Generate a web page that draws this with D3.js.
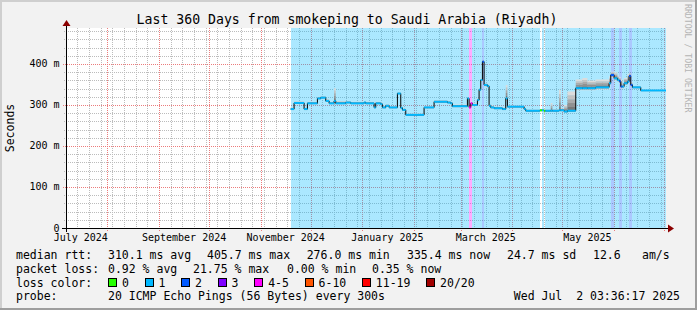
<!DOCTYPE html>
<html>
<head>
<meta charset="utf-8">
<script src="https://cdn.jsdelivr.net/npm/d3@7"></script>
<style>
  html, body { margin: 0; padding: 0; background: #f2f2f2; }
  svg { display: block; }
  text { font-family: "DejaVu Sans Mono", monospace; white-space: pre; }
</style>
</head>
<body>
<script>
// smokeping steps (start of each step), values in ms
const dates = ["2024-11-19","2024-11-21","2024-11-27","2024-11-29","2024-12-05","2024-12-07","2024-12-10","2024-12-12","2024-12-15","2024-12-16",
  "2024-12-22","2024-12-25","2025-01-02","2025-01-03","2025-01-08","2025-01-09","2025-01-12","2025-01-13","2025-01-15","2025-01-17",
  "2025-01-22","2025-01-24","2025-01-25","2025-01-27","2025-02-07","2025-02-13","2025-02-21","2025-02-23","2025-02-24","2025-03-05",
  "2025-03-06","2025-03-07","2025-03-08","2025-03-11","2025-03-12","2025-03-13","2025-03-14","2025-03-15","2025-03-17","2025-03-18",
  "2025-03-19","2025-03-21","2025-03-26","2025-03-28","2025-03-29","2025-04-08","2025-04-09","2025-04-17 12:00","2025-04-18 18:00","2025-04-19 22:00",
  "2025-04-20 18:00","2025-04-24","2025-04-25","2025-04-29","2025-04-30","2025-05-02","2025-05-04","2025-05-09","2025-05-13","2025-05-16",
  "2025-05-21","2025-05-29","2025-05-30","2025-06-01","2025-06-03","2025-06-04","2025-06-05","2025-06-06","2025-06-07","2025-06-09",
  "2025-06-10","2025-06-11","2025-06-12","2025-06-17"]
const median = [290,305,290,304,316,318,310,304,310,304,
  306,304,306,304,294,304,302,294,298,294,
  328,293,288,276,294,308,306,304,297,316,
  294,304,300,312,337,361,405.7,349,346,298,
  294,292,290,316,296,290,286,287,287,286,
  286,286,286,287,287,284,286,341,341,341,
  343,353,373,365,361,358,345,345,353,357,
  371,349,343,335.4]
const loss = [1,1,1,1,1,1,1,1,1,1,
  1,1,1,1,1,1,1,1,1,1,
  1,1,1,1,1,1,1,1,1,1,
  4,4,1,1,1,1,2,1,1,1,
  1,1,1,1,1,1,1,0,1,0,
  1,1,1,1,1,1,1,1,1,1,
  1,1,2,1,1,2,2,1,1,1,
  2,2,1,1]
const smokeHi = [294,309,294,308,320,322,314,308,341,310,
  310,308,310,308,298,308,306,298,302,297,
  331,296,291,279,297,312,310,308,301,320,
  298,308,304,316,341,365,410,353,350,302,
  298,296,294,349,299,293,289,290,290,289,
  289,305,290,337,292,300,333,362,366,360,
  362,370,381,380,372,368,362,350,366,375,
  378,356,346,337]
const smokeLo = [287,302,287,301,313,315,307,301,306,301,
  303,301,303,301,291,301,299,291,295,291,
  325,290,285,274,291,305,303,301,294,312,
  290,300,297,308,333,357,400,345,342,295,
  291,289,287,310,293,287,283,284,284,283,
  283,283,283,284,284,281,283,336,336,336,
  338,348,366,360,356,352,340,340,348,352,
  365,344,339,333]

const lossLabels = ["0","1","2","3","4-5","6-10","11-19","20/20"]
const lossColors = ["#26ff00","#00b8ff","#0059ff","#7e00ff","#ff00ff","#ff5500","#ff0000","#a10000"]
const yTicks = [0, 100, 200, 300, 400]
const labelMonths = ["2024-07-01","2024-09-01","2024-11-01","2025-01-01","2025-03-01","2025-05-01"]
const rttStats = ["310.1 ms avg","405.7 ms max","276.0 ms min","335.4 ms now","24.7 ms sd","12.6","am/s"]
const lossStats = ["0.92 % avg","21.75 % max","0.00 % min","0.35 % now"]

const width = 697, height = 310
const margin = ({ top: 28, left: 66, right: 31, bottom: 82 })
const endTime = new Date(Date.UTC(2025, 6, 2, 3, 36, 17))
const startTime = new Date(endTime - 360 * 864e5)

const parseDay = d3.utcParse("%Y-%m-%d"), parseHour = d3.utcParse("%Y-%m-%d %H:%M")
const parse = s => s.length > 10 ? parseHour(s) : parseDay(s)

const steps = dates.map((d, i) => ({ t: parse(d), v: median[i], loss: loss[i], hi: smokeHi[i], lo: smokeLo[i] }))
steps.push({ ...steps[steps.length - 1], t: endTime })

const x = d3.scaleUtc().domain([startTime, endTime]).range([margin.left, width - margin.right])
const y = d3.scaleLinear().domain([0, 487.8]).range([height - margin.bottom, margin.top])
const y0 = y(0), yTop = margin.top

const svg = d3.select('body').append('svg')
  .attr('width', width).attr('height', height)
  .attr('viewBox', [0, 0, width, height])

// frame
svg.append('rect').attr('width', width).attr('height', height).attr('fill', '#f2f2f2')
svg.append('path').attr('fill', '#cfcfcf').attr('d', `M0,0H${width}V2H2V${height}H0Z`)
svg.append('path').attr('fill', '#9e9e9e').attr('d', `M${width},${height}H0V${height - 2}H${width - 2}V0H${width}Z`)

// canvas
svg.append('rect').attr('x', x.range()[0]).attr('y', yTop)
  .attr('width', x.range()[1] - x.range()[0]).attr('height', y0 - yTop).attr('fill', '#fff')

// grid
const grid = svg.append('g').attr('shape-rendering', 'crispEdges').attr('stroke-width', 1)
const months = d3.utcMonth.range(startTime, endTime)
const weeks = d3.utcSunday.range(startTime, endTime).filter(w => w.getUTCDate() !== 1)
const minorY = d3.range(20, 488, 20).filter(v => v % 100 !== 0)
const majorY = d3.range(100, 488, 100)

grid.selectAll('.wk').data(weeks).join('line')
  .attr('x1', d => Math.round(x(d)) + 0.5).attr('x2', d => Math.round(x(d)) + 0.5)
  .attr('y1', yTop).attr('y2', y0 + 2)
  .attr('stroke', '#bcbcbc').attr('stroke-dasharray', '1,1')
grid.selectAll('.hy').data(minorY).join('line')
  .attr('x1', x.range()[0] - 2).attr('x2', x.range()[1])
  .attr('y1', d => Math.round(y(d)) + 0.5).attr('y2', d => Math.round(y(d)) + 0.5)
  .attr('stroke', '#bcbcbc').attr('stroke-dasharray', '1,1')
grid.selectAll('.mo').data(months).join('line')
  .attr('x1', d => Math.round(x(d)) + 0.5).attr('x2', d => Math.round(x(d)) + 0.5)
  .attr('y1', yTop).attr('y2', y0 + 3)
  .attr('stroke', '#ec7c7c').attr('stroke-dasharray', '1,1')
grid.selectAll('.my').data(majorY).join('line')
  .attr('x1', x.range()[0] - 3).attr('x2', x.range()[1])
  .attr('y1', d => Math.round(y(d)) + 0.5).attr('y2', d => Math.round(y(d)) + 0.5)
  .attr('stroke', '#ec7c7c').attr('stroke-dasharray', '1,1')

// loss background, consecutive equal classes merged
const runs = []
steps.slice(0, -1).forEach((s, i) => {
  const last = runs[runs.length - 1]
  if (last && last.loss === s.loss) last.t1 = steps[i + 1].t
  else runs.push({ loss: s.loss, t0: s.t, t1: steps[i + 1].t })
})
svg.append('g').attr('shape-rendering', 'crispEdges')
  .selectAll('rect').data(runs.filter(r => r.loss > 0)).join('rect')
  .attr('x', d => Math.round(x(d.t0))).attr('y', yTop)
  .attr('width', d => Math.round(x(d.t1)) - Math.round(x(d.t0)))
  .attr('height', y0 - yTop)
  .attr('fill', d => lossColors[d.loss]).attr('fill-opacity', 0.33)

// smoke, darker near the median
const levels = 5
const smoke = svg.append('g')
for (let k = levels - 1; k >= 0; k--) {
  const g = 120 + k * 25
  const grey = d3.rgb(g, g, g)
  const up = d3.area().curve(d3.curveStepAfter).x(d => x(d.t))
    .y0(d => y(d.v + (d.hi - d.v) * k / levels)).y1(d => y(d.v + (d.hi - d.v) * (k + 1) / levels))
  const down = d3.area().curve(d3.curveStepAfter).x(d => x(d.t))
    .y0(d => y(d.v - (d.v - d.lo) * k / levels)).y1(d => y(d.v - (d.v - d.lo) * (k + 1) / levels))
  smoke.append('path').attr('d', up(steps)).attr('fill', grey)
  smoke.append('path').attr('d', down(steps)).attr('fill', grey)
}

// median: thin black steps, loss coloured flats
svg.append('path')
  .attr('d', d3.line().curve(d3.curveStepAfter).x(d => x(d.t)).y(d => y(d.v))(steps))
  .attr('fill', 'none').attr('stroke', '#000').attr('stroke-width', 1)
svg.append('g').selectAll('line').data(steps.slice(0, -1)).join('line')
  .attr('x1', d => x(d.t)).attr('x2', (d, i) => x(steps[i + 1].t))
  .attr('y1', d => y(d.v)).attr('y2', d => y(d.v))
  .attr('stroke', d => lossColors[d.loss]).attr('stroke-width', 2)

// axes
const axis = svg.append('g').attr('shape-rendering', 'crispEdges')
axis.append('line').attr('x1', x.range()[0] - 4).attr('x2', x.range()[1] + 4)
  .attr('y1', y0 + 0.5).attr('y2', y0 + 0.5).attr('stroke', '#000')
axis.append('line').attr('x1', x.range()[0] + 0.5).attr('x2', x.range()[0] + 0.5)
  .attr('y1', y0 + 4).attr('y2', yTop - 3).attr('stroke', '#000')
svg.append('path').attr('fill', '#8b0000')
  .attr('d', `M${x.range()[1] + 2},${y0 - 3.5}L${x.range()[1] + 8},${y0 + 0.5}L${x.range()[1] + 2},${y0 + 4.5}Z`)
svg.append('path').attr('fill', '#8b0000')
  .attr('d', `M${x.range()[0] - 3.5},${yTop - 2}L${x.range()[0] + 0.5},${yTop - 8}L${x.range()[0] + 4.5},${yTop - 2}Z`)

svg.append('g').selectAll('text').data(yTicks).join('text')
  .attr('x', 59.5).attr('y', d => y(d) + 3.5)
  .attr('text-anchor', 'end').attr('font-size', 10).attr('fill', '#000')
  .text(d => d === 0 ? '0' : `${d} m`)

const fmt = d3.utcFormat('%B %Y')
svg.append('g').selectAll('text').data(labelMonths.map(parseDay)).join('text')
  .attr('x', d => x(d3.utcDay.offset(d, 15))).attr('y', 241)
  .attr('text-anchor', 'middle').attr('font-size', 10).attr('fill', '#000')
  .text(d => fmt(d))

svg.append('text').attr('transform', `translate(14,128) rotate(-90)`)
  .attr('text-anchor', 'middle').attr('font-size', 11.5).text('Seconds')

svg.append('text').attr('x', 347).attr('y', 23.5).attr('text-anchor', 'middle')
  .attr('font-size', 13.2).text('Last 360 Days from smokeping to Saudi Arabia (Riyadh)')

svg.append('text').attr('transform', 'translate(685,4) rotate(90)')
  .attr('font-size', 8.2).attr('fill', '#b4b4b4').text('RRDTOOL / TOBI OETIKER')

// legend
const leg = svg.append('g').attr('font-size', 11.5).attr('fill', '#000')
const rows = [258.5, 272.5, 286.5, 300]
leg.append('text').attr('x', 16).attr('y', rows[0]).text('median rtt:')
const rttX = [108, 207, 306.7, 407, 507, 593, 642]
rttStats.forEach((s, i) => leg.append('text').attr('x', rttX[i]).attr('y', rows[0]).text(s))
leg.append('text').attr('x', 16).attr('y', rows[1]).text('packet loss:')
const lossX = [108, 193, 287, 372]
lossStats.forEach((s, i) => leg.append('text').attr('x', lossX[i]).attr('y', rows[1]).text(s))
leg.append('text').attr('x', 16).attr('y', rows[2]).text('loss color:')
let lx = 108
lossLabels.forEach((l, i) => {
  leg.append('rect').attr('x', lx + 0.5).attr('y', 278.5).attr('width', 8).attr('height', 8)
    .attr('fill', lossColors[i]).attr('stroke', '#000').attr('shape-rendering', 'crispEdges')
  const t = leg.append('text').attr('x', lx + 14).attr('y', rows[2]).text(l)
  lx = lx + 14 + t.node().getComputedTextLength() + 15.6
})
leg.append('text').attr('x', 16).attr('y', rows[3]).text('probe:')
leg.append('text').attr('x', 108).attr('y', rows[3]).text('20 ICMP Echo Pings (56 Bytes) every 300s')
leg.append('text').attr('x', 680).attr('y', rows[3]).attr('text-anchor', 'end').text('Wed Jul  2 03:36:17 2025')
</script>
</body>
</html>
